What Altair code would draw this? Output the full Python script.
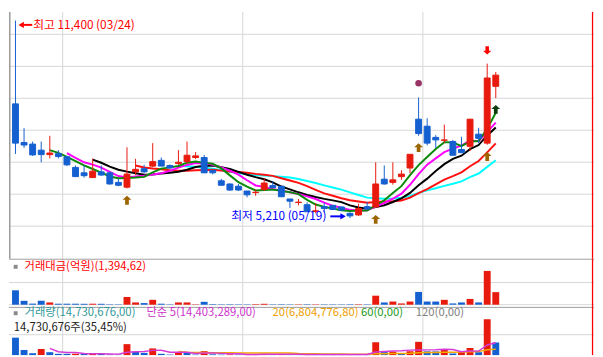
import altair as alt
import pandas as pd

# ---------------- data ----------------
dates = ["03/24", "03/25", "03/28", "03/29", "03/30", "03/31",
         "04/01", "04/04", "04/05", "04/06", "04/07", "04/08", "04/11", "04/12", "04/13",
         "04/14", "04/15", "04/18", "04/19", "04/20", "04/21", "04/22", "04/25", "04/26",
         "04/27", "04/28", "04/29",
         "05/02", "05/03", "05/04", "05/06", "05/09", "05/10", "05/11", "05/12", "05/13",
         "05/16", "05/17", "05/18", "05/19", "05/20", "05/23", "05/24", "05/25", "05/26",
         "05/27", "05/30", "05/31",
         "06/02", "06/03", "06/07", "06/08", "06/09", "06/10", "06/13", "06/14", "06/15"]

open_ = [8790, 7580, 7530, 7340, 7200, 7230, 7130, 6800, 6630, 6480,
         6660, 6630, 6330, 6180, 6660, 6760, 6840, 7020, 6860, 6920,
         6980, 7110, 7110, 6710, 6380, 6280, 6210, 6060, 6010, 6110,
         6230, 6210, 5810, 5700, 5630, 5420, 5570, 5610, 5560, 5360,
         5310, 5570, 5560, 6430, 6330, 6510, 6780, 8310, 8090, 7740,
         7650, 7610, 7360, 7460, 7840, 7560, 9340]
high = [11400, 8030, 7610, 7610, 7790, 7340, 7160, 6860, 6860, 7080,
        6860, 6680, 6440, 7430, 7070, 6880, 7560, 7110, 6890, 7340,
        7610, 7280, 7190, 6710, 6440, 6300, 6280, 6060, 6110, 6460,
        6360, 6210, 5810, 5810, 5710, 5680, 5690, 5610, 5560, 5390,
        5660, 5720, 6960, 6860, 6960, 6710, 7210, 8990, 8340, 7810,
        8140, 7660, 7760, 8310, 8040, 10050, 9790]
low = [7220, 7410, 7160, 6960, 7080, 7080, 6840, 6500, 6480, 6480,
       6540, 6260, 6210, 6140, 6560, 6620, 6810, 6840, 6760, 6880,
       6910, 7060, 6620, 6580, 6240, 6060, 6060, 5860, 5910, 6060,
       6160, 5880, 5530, 5610, 5410, 5360, 5390, 5470, 5450, 5210,
       5280, 5460, 5540, 6260, 6260, 6410, 6620, 7790, 7490, 7410,
       7560, 7180, 7260, 7310, 7560, 7510, 8970]
close = [7560, 7500, 7190, 7200, 7250, 7140, 6880, 6510, 6540, 6680,
         6560, 6280, 6240, 6590, 6740, 6660, 6980, 6840, 6780, 6960,
         7180, 7160, 6630, 6630, 6240, 6090, 6090, 5940, 6020, 6310,
         6170, 5880, 5740, 5710, 5410, 5440, 5510, 5480, 5460, 5280,
         5510, 5500, 6280, 6280, 6410, 6590, 7210, 7860, 7560, 7660,
         7660, 7180, 7260, 8310, 7710, 9600, 9690]

trade_value = [1600, 430, 120, 430, 250, 110, 110, 110, 100, 110,
               100, 45, 40, 860, 250, 180, 540, 110, 40, 250,
               250, 40, 320, 60, 40, 50, 40, 40, 60, 100,
               40, 50, 40, 40, 50, 40, 40, 40, 35, 50,
               50, 40, 1000, 250, 350, 140, 350, 1420, 350, 350,
               540, 140, 250, 640, 250, 3750, 1394.62]  # 억원

volume_m = [20.4, 6.0, 2.2, 7.0, 3.4, 1.5, 1.5, 1.6, 1.4, 1.6,
            1.4, 0.7, 0.6, 12.8, 3.7, 2.6, 7.8, 1.5, 0.6, 3.5,
            3.4, 0.6, 4.6, 0.9, 0.6, 0.8, 0.6, 0.7, 0.9, 1.5,
            0.6, 0.8, 0.7, 0.7, 0.9, 0.7, 0.7, 0.7, 0.6, 0.9,
            0.9, 0.7, 15.0, 3.5, 4.0, 2.1, 4.5, 15.5, 4.4, 4.3,
            6.0, 1.9, 3.6, 8.3, 3.4, 41.9, 14.730676]  # million shares

price_grid = [10968, 9966, 8965, 7963, 6962, 5960, 4958]
tv_grid = [2460]
vol_grid = [23.8e6]

buy_idx = [14, 43, 48, 56]     # brown up arrows under the low
sell_idx = [56]                # red down arrow above the high
trend_idx = [57]               # dark green up arrow under the low
dot_idx = [48]                 # purple dot above the high

ma_periods = [20, 15, 10, 7, 5]
ma_colors = ["#00FFFF", "#FF1010", "#000000", "#FF00FF", "#0A8A0A"]
vol_ma_periods = [20, 5]
vol_ma_colors = ["#F2A600", "#D63AD6"]

tv_header = "거래대금(억원)(1,394,62)"
vol_header = ["거래량(14,730,676,00)", "단순 5(14,403,289,00)", "20(6,804,776,80)",
              "60(0,00)", "120(0,00)"]
vol_header_colors = ["#339999", "#CC33CC", "#F0A000", "#229922", "#808080"]
vol_sub = "14,730,676주(35,45%)"

# ---------------- frames ----------------
n = len(dates)
df = pd.DataFrame({
    "i": list(range(1, n + 1)), "date": dates,
    "open": open_, "high": high, "low": low, "close": close,
    "tv": trade_value, "vol": [v * 1e6 for v in volume_m],
})
df["dir"] = ["up" if c >= o else "down" for o, c in zip(open_, close)]
df["vdir"] = ["down"] + ["up" if volume_m[k] > volume_m[k - 1] else "down" for k in range(1, n)]

month_bounds = [j + 0.5 for j in range(1, n) if dates[j][:2] != dates[j - 1][:2]]

hi_k = high.index(max(high))
lo_k = low.index(min(low))
hi_df = pd.DataFrame({"i": [hi_k + 1], "p": [high[hi_k]],
                      "t": [f"최고 {high[hi_k]:,} ({dates[hi_k]})"]})
lo_df = pd.DataFrame({"i": [lo_k + 1], "p": [low[lo_k]],
                      "t": [f"최저 {low[lo_k]:,} ({dates[lo_k]})"]})

# ---------------- styling ----------------
FONT = "Noto Sans CJK KR"
HFS = 11.5
W = 595
H1, H2, H3 = 251, 49, 49
CRED, CBLUE = "#E81A0E", "#1560D0"
GRID, SEP = "#D6D6D6", "#9E9E9E"
UP_PATH = "M0,-1L1,-0.1L0.42,-0.1L0.42,1L-0.42,1L-0.42,-0.1L-1,-0.1Z"
DOWN_PATH = "M0,1L1,0.1L0.42,0.1L0.42,-1L-0.42,-1L-0.42,0.1L-1,0.1Z"

xs = alt.Scale(domain=[0.242, 68.455], nice=False, zero=False, padding=0)
ys_p = alt.Scale(domain=[3938, 11670], nice=False, zero=False, padding=0)
ys_tv = alt.Scale(domain=[-246, 5104], nice=False, zero=False, padding=0)
ys_v = alt.Scale(domain=[0, 56.3e6], nice=False, zero=False, padding=0)
cs = alt.Scale(domain=["up", "down"], range=[CRED, CBLUE])
cs_tv = alt.Scale(domain=["up", "down"], range=["#FF0000", "#0000FF"])

one = pd.DataFrame({"a": [0]})
base = alt.Chart(df)


def X(f="i"):
    return alt.X(f"{f}:Q", scale=xs, axis=None)


def month_rules():
    return alt.Chart(pd.DataFrame({"m": month_bounds})).mark_rule(
        color=GRID, strokeWidth=1).encode(x=X("m"))


def red_edge(h):
    return alt.Chart(one).mark_rule(color="#FF0000", strokeWidth=1.3).encode(
        x=alt.value(W - 1.5), y=alt.value(0), y2=alt.value(h))


def hline(yv, color):
    return alt.Chart(one).mark_rule(color=color, strokeWidth=1).encode(
        x=alt.value(0), x2=alt.value(W), y=alt.value(yv))


# ---------------- price panel ----------------
p_grid = alt.Chart(pd.DataFrame({"v": price_grid})).mark_rule(
    color=GRID, strokeWidth=1).encode(y=alt.Y("v:Q", scale=ys_p, axis=None))
left_edge = alt.Chart(one).mark_rule(color="#9A9A9A", strokeWidth=1.5).encode(
    x=alt.value(0.8), y=alt.value(0), y2=alt.value(H1))

ma_layers = []
for p, c in zip(ma_periods, ma_colors):
    ma_layers.append(
        base.transform_window(ma="mean(close)", frame=[-(p - 1), 0],
                              sort=[alt.SortField("i", order="ascending")])
        .transform_filter(alt.datum.i >= p)
        .mark_line(color=c, strokeWidth=2)
        .encode(x=X(), y=alt.Y("ma:Q", scale=ys_p, axis=None))
    )

wick = base.mark_rule(strokeWidth=1).encode(
    x=X(), y=alt.Y("low:Q", scale=ys_p, axis=None), y2="high:Q",
    color=alt.Color("dir:N", scale=cs, legend=None))
body = base.mark_bar(size=6, strokeWidth=1).encode(
    x=X(), y=alt.Y("open:Q", scale=ys_p, axis=None, stack=None), y2="close:Q",
    color=alt.Color("dir:N", scale=cs, legend=None),
    stroke=alt.Stroke("dir:N", scale=cs, legend=None))


def sig(idx, field, shape, color, size, yoff):
    return base.transform_filter(alt.FieldOneOfPredicate(field="i", oneOf=idx)).mark_point(
        shape=shape, filled=True, size=size, color=color, opacity=1, yOffset=yoff
    ).encode(x=X(), y=alt.Y(f"{field}:Q", scale=ys_p, axis=None))


signals = [
    sig(buy_idx, "low", UP_PATH, "#9C6500", 81, 12),
    sig(sell_idx, "high", DOWN_PATH, "#FF0000", 72, -13.5),
    sig(trend_idx, "low", UP_PATH, "#0D3D0D", 81, 11.5),
    sig(dot_idx, "high", "circle", "#993366", 45, -14.5),
]

hi_text = alt.Chart(hi_df).mark_text(align="left", baseline="middle", dx=18, dy=4.4,
                                     fontSize=12, color="#FF0000", font=FONT).encode(
    x=X(), y=alt.Y("p:Q", scale=ys_p, axis=None), text="t:N")
hi_tri = alt.Chart(hi_df).mark_point(shape="triangle-left", filled=True, size=40,
                                     color="#FF0000", opacity=1, xOffset=5.8, yOffset=4.4).encode(
    x=X(), y=alt.Y("p:Q", scale=ys_p, axis=None))
hi_stem = alt.Chart(hi_df).mark_rule(color="#FF0000", strokeWidth=2, xOffset=8,
                                     x2Offset=17, yOffset=4.4).encode(
    x=X(), x2="i:Q", y=alt.Y("p:Q", scale=ys_p, axis=None))

lo_text = alt.Chart(lo_df).mark_text(align="right", baseline="middle", dx=-24, dy=-2,
                                     fontSize=12, color="#0000FF", font=FONT).encode(
    x=X(), y=alt.Y("p:Q", scale=ys_p, axis=None), text="t:N")
lo_tri = alt.Chart(lo_df).mark_point(shape="triangle-right", filled=True, size=40,
                                     color="#0000FF", opacity=1, xOffset=-7, yOffset=-1.8).encode(
    x=X(), y=alt.Y("p:Q", scale=ys_p, axis=None))
lo_stem = alt.Chart(lo_df).mark_rule(color="#0000FF", strokeWidth=2, xOffset=-20,
                                     x2Offset=-9, yOffset=-1.8).encode(
    x=X(), x2="i:Q", y=alt.Y("p:Q", scale=ys_p, axis=None))

price_panel = alt.layer(
    p_grid, month_rules(), left_edge, *ma_layers, wick, body, *signals,
    hi_stem, hi_tri, hi_text, lo_stem, lo_tri, lo_text, red_edge(H1)
).properties(width=W, height=H1)

# ---------------- trading value panel ----------------
tv_grid_l = alt.Chart(pd.DataFrame({"v": tv_grid + [0]})).mark_rule(
    color=GRID, strokeWidth=1).encode(y=alt.Y("v:Q", scale=ys_tv, axis=None))
tv_bars = base.mark_bar(size=7).encode(
    x=X(), y=alt.Y("tv:Q", scale=ys_tv, axis=None, stack=None),
    color=alt.Color("dir:N", scale=cs_tv, legend=None))
tv_sq = alt.Chart(one).mark_square(size=16, color="#8A8A8A", opacity=1).encode(
    x=alt.value(6.8), y=alt.value(8.2))
tv_txt = alt.Chart(pd.DataFrame({"t": [tv_header]})).mark_text(
    align="left", baseline="middle", fontSize=HFS, color="#FF0000", font=FONT).encode(
    x=alt.value(15.8), y=alt.value(8.6), text="t:N")

tv_panel = alt.layer(
    tv_grid_l, month_rules(), tv_bars, hline(0.5, SEP), tv_sq, tv_txt, red_edge(H2)
).properties(width=W, height=H2)

# ---------------- volume panel ----------------
v_grid_l = alt.Chart(pd.DataFrame({"v": vol_grid})).mark_rule(
    color=GRID, strokeWidth=1).encode(y=alt.Y("v:Q", scale=ys_v, axis=None))
v_bars = base.mark_bar(size=7).encode(
    x=X(), y=alt.Y("vol:Q", scale=ys_v, axis=None, stack=None),
    color=alt.Color("vdir:N", scale=cs, legend=None))
v_ma = []
for p, c in zip(vol_ma_periods, vol_ma_colors):
    v_ma.append(
        base.transform_window(vma="mean(vol)", frame=[-(p - 1), 0],
                              sort=[alt.SortField("i", order="ascending")])
        .transform_filter(alt.datum.i >= p)
        .mark_line(color=c, strokeWidth=1.5)
        .encode(x=X(), y=alt.Y("vma:Q", scale=ys_v, axis=None))
    )
v_sq = alt.Chart(one).mark_square(size=16, color="#8A8A8A", opacity=1).encode(
    x=alt.value(6.8), y=alt.value(6.4))
hx = [15.8, 139.8, 268.1, 357.9, 413.7]
v_txt = [
    alt.Chart(pd.DataFrame({"t": [t]})).mark_text(
        align="left", baseline="middle", fontSize=HFS, color=c, font=FONT).encode(
        x=alt.value(xv), y=alt.value(6.4), text="t:N")
    for t, c, xv in zip(vol_header, vol_header_colors, hx)
]
v_sub = alt.Chart(pd.DataFrame({"t": [vol_sub]})).mark_text(
    align="left", baseline="middle", fontSize=HFS, color="#222222", font=FONT).encode(
    x=alt.value(4.9), y=alt.value(21.6), text="t:N")

vol_panel = alt.layer(
    v_grid_l, month_rules(), v_bars, *v_ma, hline(0.5, SEP), v_sq, *v_txt, v_sub, red_edge(H3)
).properties(width=W, height=H3)

chart = alt.vconcat(price_panel, tv_panel, vol_panel, spacing=0, bounds="flush").properties(
    padding=0
).configure_view(strokeWidth=0).configure_text(font=FONT)

chart.save("out.html", embed_options={"renderer": "svg", "actions": False})
